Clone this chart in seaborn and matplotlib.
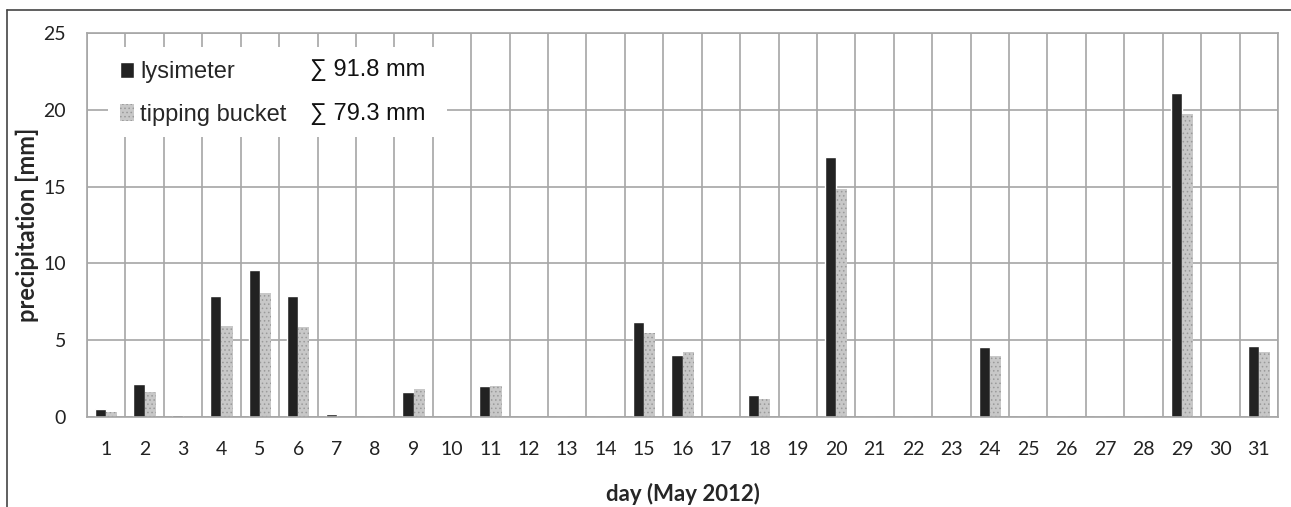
import numpy as np
import pandas as pd
import matplotlib
matplotlib.use("Agg")
import matplotlib.pyplot as plt
import seaborn as sns
from matplotlib.patches import Rectangle
from matplotlib.lines import Line2D

sns.set_style("white")
plt.rcParams['font.family'] = ['Lato', 'DejaVu Sans']
plt.rcParams['hatch.linewidth'] = 0.6

days = list(range(1, 32))
lysimeter = [0.55, 2.15, 0.1, 7.9, 9.57, 7.9, 0.2, 0, 1.6, 0, 2.0, 0, 0, 0, 6.2, 4.03,
             0, 1.45, 0, 16.95, 0, 0, 0, 4.57, 0, 0, 0, 0, 21.1, 0, 4.65]
tipping = [0.3, 1.6, 0, 5.92, 8.05, 5.84, 0, 0, 1.82, 0, 2.05, 0, 0, 0, 5.45, 4.25,
           0, 1.2, 0, 14.83, 0, 0, 0, 3.96, 0, 0, 0, 0, 19.7, 0, 4.26]
series = ["lysimeter", "tipping bucket"]
sums = ["\u2211 91.8 mm", "\u2211 79.3 mm"]

df = pd.DataFrame({"day": days * 2,
                   "value": lysimeter + tipping,
                   "series": [series[0]] * 31 + [series[1]] * 31})

gridc = "#a6a6a6"
fig = plt.figure(figsize=(12.91, 5.07), dpi=100)
ax = fig.add_axes([87 / 1291, 1 - 417 / 507, (1278 - 87) / 1291, (417 - 33) / 507])

sns.barplot(data=df, x="day", y="value", hue="series", palette=["#222222", "#c8c8c8"],
            width=0.58, ax=ax, legend=False, saturation=1, zorder=2)
# dotted look for tipping bucket bars
for bar in ax.containers[1]:
    bar.set_hatch("....")
    bar.set_edgecolor("#9a9a9a")
    bar.set_linewidth(0)

ax.set_xlim(-0.5, 30.5)
ax.set_ylim(0, 25)
ax.set_yticks([0, 5, 10, 15, 20, 25])
ax.set_xticks(np.arange(-0.5, 31, 1), minor=True)
ax.set_axisbelow(True)
ax.grid(axis="y", color=gridc, linewidth=1.2)
ax.grid(axis="x", which="minor", color=gridc, linewidth=1.2)
ax.tick_params(axis="x", which="major", length=0, pad=17, labelsize=14, labelcolor="#222222")
ax.tick_params(axis="x", which="minor", length=7, width=1.2, color=gridc, direction="out")
ax.tick_params(axis="y", length=7, width=1.2, color=gridc, labelsize=14, pad=8, labelcolor="#222222")
for s in ax.spines.values():
    s.set_color(gridc)
    s.set_linewidth(1.2)

ax.set_xlabel("day (May 2012)", fontsize=16, fontweight="bold", labelpad=18)
ax.set_ylabel("precipitation [mm]", fontsize=17, fontweight="bold", labelpad=3)

# legend box
ax.add_patch(Rectangle((0.0176, 0.729), 0.285, 0.235, transform=ax.transAxes,
                       facecolor="white", edgecolor="none", zorder=3))
handles = [Rectangle((0, 0), 1, 1, facecolor="#222222"),
           Rectangle((0, 0), 1, 1, facecolor="#c8c8c8", hatch="....", edgecolor="#9a9a9a", linewidth=0)]
leg = ax.legend(handles, series, loc="upper left", bbox_to_anchor=(0.012, 0.975), frameon=False,
                prop={"family": ["Liberation Sans", "DejaVu Sans"], "size": 17},
                handlelength=0.6, handleheight=0.7, handletextpad=0.25,
                labelspacing=0.85, borderpad=0.3)
leg.set_zorder(4)
for i, t in enumerate(sums):
    ax.text(0.187, 0.904 - i * 0.115, t, transform=ax.transAxes, fontsize=17,
            family=["Liberation Sans", "DejaVu Sans"],
            va="center", ha="left", zorder=5, color="#111111")

# outer frame of the figure
fig.add_artist(Line2D([7 / 1291, 1], [1 - 10 / 507, 1 - 10 / 507], color="#444444", linewidth=1.2))
fig.add_artist(Line2D([7 / 1291, 7 / 1291], [0, 1 - 10 / 507], color="#444444", linewidth=1.2))

fig.savefig("out.png", dpi=100)
